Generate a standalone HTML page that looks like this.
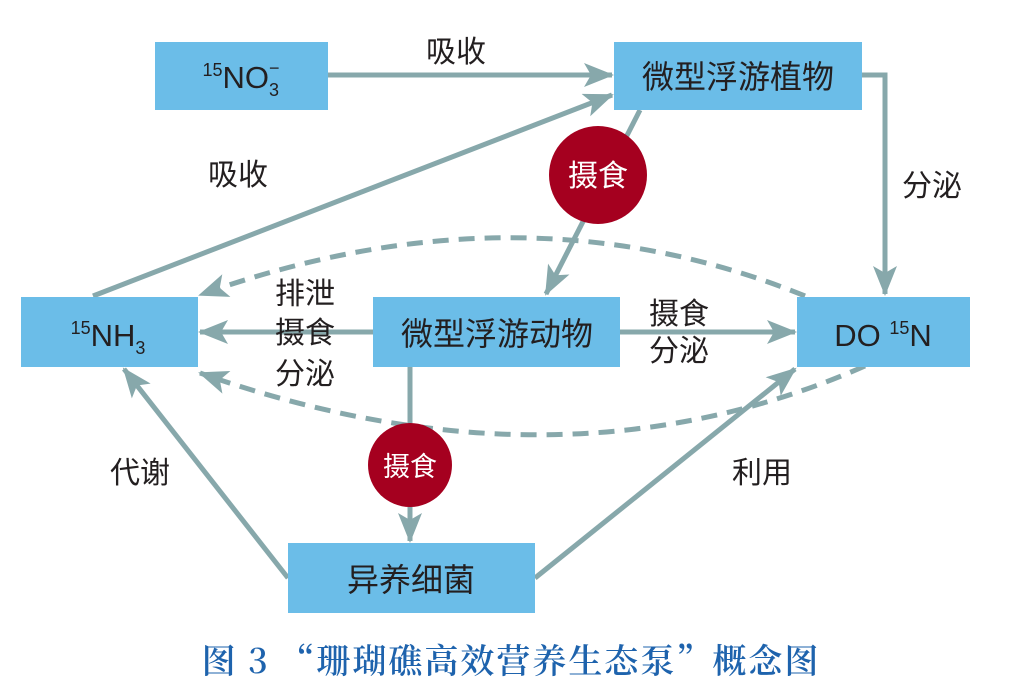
<!DOCTYPE html>
<html><head><meta charset="utf-8"><style>
body{margin:0;background:#fff;}
svg{display:block;}
.t{font-family:"Liberation Sans","Noto Sans CJK SC",sans-serif;fill:#231f20;font-size:30px;}
</style></head><body>
<svg width="1032" height="687" viewBox="0 0 1032 687" xmlns="http://www.w3.org/2000/svg">
<defs>
<marker id="a" viewBox="0 0 30 24" refX="28" refY="12" markerWidth="30" markerHeight="24" markerUnits="userSpaceOnUse" orient="auto">
<path d="M0,0 L30,12 L0,24 L7,12 Z" fill="#87a8ab"/>
</marker>
</defs>
<g stroke="#87a8ab" stroke-width="5" fill="none">
<line x1="328" y1="75" x2="612" y2="75" marker-end="url(#a)"/>
<polyline points="862,75 885,75 885,294" marker-end="url(#a)"/>
<line x1="640" y1="110" x2="546" y2="294" marker-end="url(#a)"/>
<line x1="93" y1="296" x2="612" y2="95" marker-end="url(#a)"/>
<line x1="373" y1="332" x2="200" y2="332" marker-end="url(#a)"/>
<line x1="620" y1="332" x2="795" y2="332" marker-end="url(#a)"/>
<line x1="410" y1="366" x2="410" y2="541" marker-end="url(#a)"/>
<line x1="288" y1="578" x2="124" y2="369" marker-end="url(#a)"/>
<line x1="535" y1="578" x2="795" y2="369" marker-end="url(#a)"/>
<path d="M805,296 Q520,180 200,295" stroke-dasharray="16,10" marker-end="url(#a)"/>
<path d="M865,366 Q560,500 200,373" stroke-dasharray="16,10" marker-end="url(#a)"/>
</g>
<g fill="#6bbde8">
<rect x="155" y="42" width="173" height="68"/>
<rect x="614" y="42" width="248" height="68"/>
<rect x="21" y="297" width="177" height="70"/>
<rect x="373" y="297" width="247" height="70"/>
<rect x="797" y="297" width="173" height="70"/>
<rect x="288" y="543" width="247" height="70"/>
</g>
<circle cx="598" cy="175" r="49" fill="#a5001f"/>
<circle cx="410" cy="465" r="42" fill="#a5001f"/>
<text class="t" x="598" y="186" text-anchor="middle" style="fill:#fff">摄食</text>
<text class="t" x="410" y="476" text-anchor="middle" style="fill:#fff;font-size:27px">摄食</text>
<text class="t" x="241" y="88" text-anchor="middle" style="font-size:31px"><tspan font-size="18" dy="-12">15</tspan><tspan dy="12">NO</tspan><tspan font-size="18" dy="8">3</tspan><tspan font-size="18" dx="-10" dy="-22">−</tspan></text>
<text class="t" x="738" y="88" text-anchor="middle" style="font-size:32px">微型浮游植物</text>
<text class="t" x="108" y="346" text-anchor="middle" style="font-size:31px"><tspan font-size="18" dy="-12">15</tspan><tspan dy="12">NH</tspan><tspan font-size="18" dy="8">3</tspan></text>
<text class="t" x="497" y="345" text-anchor="middle" style="font-size:32px">微型浮游动物</text>
<text class="t" x="883" y="346" text-anchor="middle" style="font-size:31px">DO <tspan font-size="18" dy="-12">15</tspan><tspan dy="12">N</tspan></text>
<text class="t" x="411" y="591" text-anchor="middle" style="font-size:32px">异养细菌</text>
<text class="t" x="456" y="62" text-anchor="middle">吸收</text>
<text class="t" x="238" y="185" text-anchor="middle">吸收</text>
<text class="t" x="932" y="196" text-anchor="middle">分泌</text>
<text class="t" x="305" y="304" text-anchor="middle">排泄</text>
<text class="t" x="305" y="343" text-anchor="middle">摄食</text>
<text class="t" x="305" y="384" text-anchor="middle">分泌</text>
<text class="t" x="679" y="324" text-anchor="middle">摄食</text>
<text class="t" x="679" y="361" text-anchor="middle">分泌</text>
<text class="t" x="140" y="483" text-anchor="middle">代谢</text>
<text class="t" x="762" y="483" text-anchor="middle">利用</text>
<text x="511" y="673" text-anchor="middle" style="font-family:'Noto Serif CJK SC','Liberation Serif',serif;font-size:34px;font-weight:600;letter-spacing:2px;fill:#1e63ad">图 3 “珊瑚礁高效营养生态泵”概念图</text>
</svg>
</body></html>
